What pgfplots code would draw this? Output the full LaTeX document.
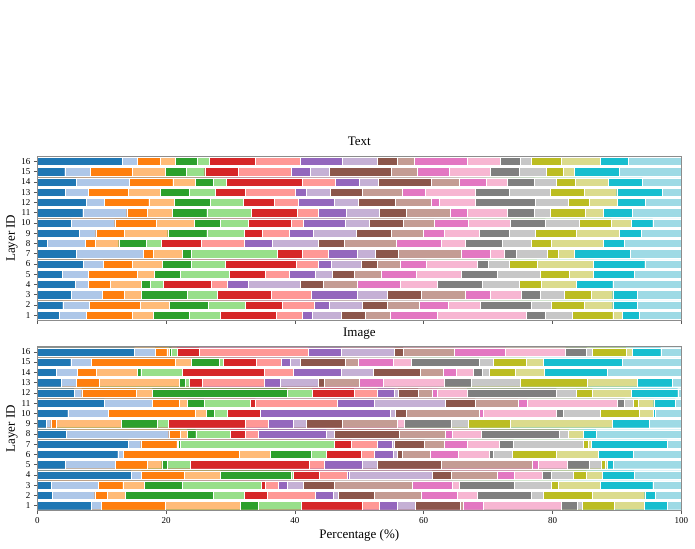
\documentclass[border=0pt]{standalone}
\usepackage{fontspec}
\setmainfont{Liberation Serif}
\usepackage{pgfplots}
\usepackage{pgfplotstable}
\pgfplotsset{compat=1.18}

\definecolor{tab1}{HTML}{1F77B4}
\definecolor{tab2}{HTML}{AEC7E8}
\definecolor{tab3}{HTML}{FF7F0E}
\definecolor{tab4}{HTML}{FFBB78}
\definecolor{tab5}{HTML}{2CA02C}
\definecolor{tab6}{HTML}{98DF8A}
\definecolor{tab7}{HTML}{D62728}
\definecolor{tab8}{HTML}{FF9896}
\definecolor{tab9}{HTML}{9467BD}
\definecolor{tab10}{HTML}{C5B0D5}
\definecolor{tab11}{HTML}{8C564B}
\definecolor{tab12}{HTML}{C49C94}
\definecolor{tab13}{HTML}{E377C2}
\definecolor{tab14}{HTML}{F7B6D2}
\definecolor{tab15}{HTML}{7F7F7F}
\definecolor{tab16}{HTML}{C7C7C7}
\definecolor{tab17}{HTML}{BCBD22}
\definecolor{tab18}{HTML}{DBDB8D}
\definecolor{tab19}{HTML}{17BECF}
\definecolor{tab20}{HTML}{9EDAE5}

% cumulative right edges (%) of the 20 segments of each layer
\pgfplotstableread{
layer c1 c2 c3 c4 c5 c6 c7 c8 c9 c10 c11 c12 c13 c14 c15 c16 c17 c18 c19 c20
16 13.16 15.49 19.06 21.44 24.81 26.73 33.82 40.86 47.38 52.77 55.93 58.57 66.70 71.88 74.99 76.70 81.36 87.42 91.82 100
15 4.25 8.24 14.76 19.84 23.15 26.00 31.23 39.36 42.37 45.37 54.95 58.94 63.91 70.33 74.79 78.98 81.62 83.38 90.42 100
14 6.06 14.25 21.03 24.50 27.35 29.32 41.12 46.30 49.98 52.98 61.17 65.46 69.66 73.02 77.17 80.59 83.54 88.66 93.95 100
13 4.36 7.88 14.09 19.06 23.62 27.56 32.27 40.09 41.80 45.53 50.50 56.66 60.28 68.05 73.23 79.60 84.93 89.96 97.05 100
12 7.57 10.36 17.30 21.19 26.83 31.96 36.72 40.55 46.15 49.82 55.62 61.17 62.41 68.05 77.27 82.40 85.66 90.06 94.41 100
11 7.05 13.88 17.10 20.93 26.31 33.20 40.30 43.61 48.01 53.03 57.28 64.12 66.71 72.92 77.17 79.65 85.14 87.94 92.34 100
10 5.29 12.02 18.44 24.35 28.44 32.79 39.36 41.33 47.80 51.53 56.81 61.63 66.97 73.49 78.88 84.16 89.13 92.24 95.55 100
9 6.53 9.07 13.52 20.25 26.31 32.06 34.96 39.10 42.83 49.51 55.00 59.92 63.18 68.67 73.28 77.37 83.74 90.37 93.79 100
8 1.56 7.41 9.02 12.64 16.89 19.22 25.43 32.06 36.51 43.66 47.65 55.67 62.72 66.45 72.20 76.70 79.81 87.89 91.15 100
7 6.06 16.42 18.03 22.48 23.88 37.29 41.12 45.16 49.67 52.46 55.99 65.83 70.33 72.45 74.37 79.24 80.84 83.43 92.08 100
6 7.10 10.21 14.76 19.37 23.93 29.11 40.24 43.66 45.63 50.24 52.78 56.35 60.39 68.36 70.02 73.28 77.58 86.38 94.31 100
5 3.84 7.93 15.54 18.18 22.17 29.83 35.43 39.10 43.19 45.78 49.20 53.35 58.83 65.83 71.37 78.10 82.60 86.38 92.75 100
4 5.86 7.93 11.29 16.11 17.51 19.53 26.99 29.47 32.68 40.76 44.44 49.67 56.35 62.10 69.04 74.79 78.25 83.64 89.34 100
3 5.29 10.05 13.47 16.11 23.26 27.92 36.36 42.47 49.72 54.33 59.56 66.45 70.33 75.10 78.05 81.88 85.97 89.34 93.17 100
2 3.94 8.03 15.96 20.51 26.47 32.27 38.02 43.04 45.32 50.45 54.33 59.30 63.86 68.78 76.75 79.76 84.93 89.34 93.12 100
1 3.37 7.57 14.76 18.03 23.62 28.44 37.08 41.12 42.68 47.23 50.91 54.74 62.15 75.87 78.88 83.02 89.34 90.78 93.53 100
}\textdata

\pgfplotstableread{
layer c1 c2 c3 c4 c5 c6 c7 c8 c9 c10 c11 c12 c13 c14 c15 c16 c17 c18 c19 c20
16 15.08 18.29 20.10 20.46 20.82 21.70 25.12 42.11 47.18 55.47 56.81 64.69 72.71 82.03 85.30 86.12 91.41 92.44 96.80 100
15 5.18 8.39 21.39 23.93 28.23 28.90 33.98 37.81 39.31 40.86 47.80 49.87 55.31 58.01 68.67 70.80 75.87 78.51 90.84 100
14 2.91 6.17 9.17 15.49 16.06 22.48 35.27 39.67 47.18 52.20 59.45 63.03 65.10 67.64 69.09 70.12 74.21 78.77 88.45 100
13 3.73 6.06 9.64 22.07 22.95 23.57 25.54 35.22 37.65 43.61 44.59 49.93 53.76 63.18 67.43 74.99 85.45 93.12 98.60 100
12 5.70 6.89 15.33 17.87 38.79 42.68 49.15 52.83 55.47 55.98 59.14 61.27 62.15 66.71 80.59 83.64 86.18 92.18 99.44 100
11 10.41 17.82 22.01 23.31 25.85 33.10 33.87 46.56 52.31 63.39 68.00 74.63 76.08 90.06 91.20 92.55 93.27 95.71 99.07 100
10 4.72 10.98 24.50 26.21 27.50 29.47 34.55 34.55 54.85 55.62 57.23 68.57 69.19 80.59 81.72 87.47 93.53 95.60 95.97 100
9 1.40 2.08 2.96 13.00 18.60 20.30 32.27 35.79 39.67 41.75 47.29 55.83 55.83 57.02 64.27 66.91 73.44 89.23 95.08 100
8 4.46 20.41 22.17 23.26 24.60 29.99 32.27 34.24 44.85 46.15 56.14 63.34 64.48 68.88 81.10 82.40 82.50 84.78 86.75 100
7 14.14 16.06 21.65 21.81 22.12 46.10 48.79 52.83 55.05 55.42 60.13 63.18 66.81 71.78 73.96 84.83 85.56 86.02 97.78 100
6 12.49 13.31 31.39 36.20 42.57 44.90 50.29 52.31 55.31 55.88 56.71 60.96 65.41 70.23 70.75 73.70 80.59 87.16 92.55 100
5 4.36 12.12 17.04 19.32 20.15 23.72 42.21 44.49 50.45 52.83 62.72 76.80 77.74 82.35 85.76 87.57 88.25 88.51 89.44 100
4 14.56 16.16 22.79 28.44 39.41 39.73 43.76 48.11 48.42 61.32 64.32 71.42 74.06 78.41 79.86 83.28 85.24 87.73 92.65 100
3 2.18 9.48 13.26 16.53 22.53 34.75 35.38 37.40 38.79 41.23 46.15 58.16 64.48 65.46 74.06 79.81 80.89 87.37 95.55 100
2 2.28 8.91 10.83 13.68 27.30 32.06 35.74 43.14 45.89 46.77 52.31 59.56 65.20 68.36 76.75 78.56 86.18 94.31 95.91 100
1 8.39 9.90 19.89 31.44 34.29 40.97 50.39 53.14 55.83 58.68 65.72 66.19 69.19 81.36 83.80 84.63 89.59 94.25 97.83 100
}\imagedata

\pgfplotsset{
  layerstyle/.style={
    scale only axis, width=644pt, height=164pt,
    xbar, bar width=0.8, bar shift=0pt,
    xmin=0, xmax=100, ymin=0.5, ymax=16.5,
    enlargelimits=false,
    ytick={1,...,16}, xtick={0,20,...,100},
    tick align=outside, xtick pos=bottom, ytick pos=left,
    major tick length=3.5pt,
    tick style={black!65, line width=0.6pt},
    axis line style={black!45, line width=0.8pt},
    axis on top,
    tick label style={font=\fontsize{9}{10}\selectfont},
    /pgf/number format/assume math mode=true,
    label style={font=\fontsize{13}{15}\selectfont},
    title style={font=\fontsize{13}{15}\selectfont, at={(0.5,1)}, anchor=base, yshift=4.5pt},
    ylabel={Layer ID},
    ylabel style={at={(axis description cs:-0.0393,0.5)}, anchor=center},
  },
}

\begin{document}
\begin{tikzpicture}
\path[use as bounding box] (0,0) rectangle (695pt,548pt);

\begin{axis}[layerstyle, at={(37.3pt,227.7pt)}, anchor=south west,
  title={Text}, xticklabels={}]
\pgfplotsinvokeforeach{20,19,...,1}{
  \addplot[xbar, bar shift=0pt, bar width=0.8, fill=tab#1, draw=white, line width=0.3pt]
    table[x=c#1, y=layer] {\textdata};
}
\end{axis}

\begin{axis}[layerstyle, at={(37.3pt,37.3pt)}, anchor=south west,
  title={Image}, xlabel={Percentage (\%)},
  xlabel style={at={(axis description cs:0.5,0)}, anchor=center, yshift=-25pt}]
\pgfplotsinvokeforeach{20,19,...,1}{
  \addplot[xbar, bar shift=0pt, bar width=0.8, fill=tab#1, draw=white, line width=0.3pt]
    table[x=c#1, y=layer] {\imagedata};
}
\end{axis}
\end{tikzpicture}
\end{document}
